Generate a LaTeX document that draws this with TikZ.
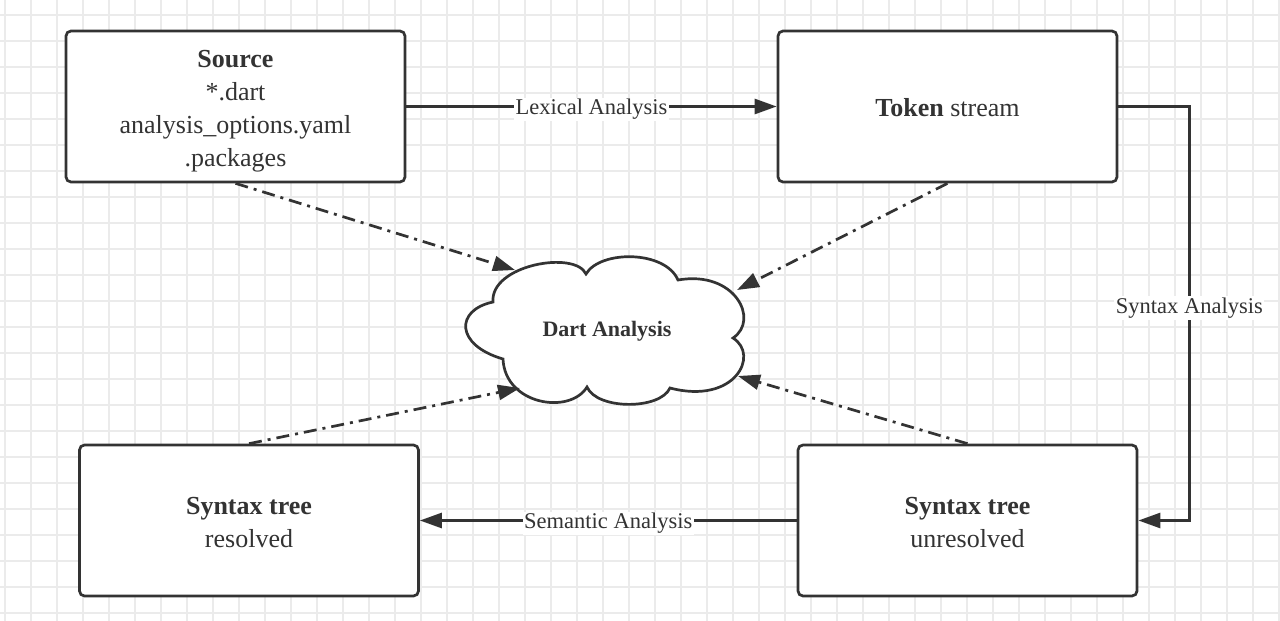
\documentclass[tikz,border=0pt]{standalone}
\usepackage{fontspec}
\setmainfont{Liberation Serif}
\usetikzlibrary{arrows.meta}
\definecolor{ink}{HTML}{333333}
\definecolor{gridc}{HTML}{EBEBEB}
\tikzset{
  box/.style={draw=ink, line width=2.7pt, rounded corners=5pt, fill=white,
    minimum width=339pt, minimum height=151pt},
  boxtext/.style={align=center, text=ink, inner sep=0pt, font=\fontsize{26}{33}\selectfont},
  flow/.style={draw=ink, line width=2.7pt, -{Triangle[length=22pt,width=15pt]}},
  dd/.style={draw=ink, line width=2.7pt, dash pattern=on 13pt off 6pt on 3pt off 6pt,
    -{Triangle[length=22pt,width=15pt]}},
  lbl/.style={fill=white, inner sep=1.5pt, text=ink, yshift=-3pt, font=\fontsize{22.5}{26}\selectfont},
  cloudline/.style={draw=ink, line width=2.7pt, fill=white},
}
\begin{document}
\begin{tikzpicture}[x=1pt,y=-1pt]
\useasboundingbox (0,0) rectangle (1280,621);
\fill[white] (0,0) rectangle (1280,621);
\foreach \i in {0,...,49} \draw[gridc, line width=1.5pt] (5+26*\i,0) -- (5+26*\i,621);
\foreach \j in {0,...,23} \draw[gridc, line width=1.5pt] (0,15+26*\j) -- (1280,15+26*\j);

\node[box] (src) at (235.5,106.5) {};
\node[box] (tok) at (947.5,106.5) {};
\node[box] (res) at (249,520.5) {};
\node[box] (unr) at (967.5,520.5) {};
\node[boxtext] (srct) at ([yshift=-4.5pt]src.center) {\textbf{Source}\\*.dart\\analysis\_options.yaml\\.packages};
\node[boxtext] (tokt) at ([yshift=-1pt]tok.center) {\textbf{Token} stream};
\node[boxtext] (rest) at ([yshift=-2pt]res.center) {\textbf{Syntax tree}\\resolved};
\node[boxtext] (unrt) at ([yshift=-2pt]unr.center) {\textbf{Syntax tree}\\unresolved};

% cloud outline
\draw[cloudline] (493,302)
  .. controls (490,265) and (575,250) .. (586,274)
  .. controls (600,250) and (665,250) .. (678,280)
  .. controls (735,270) and (760,320) .. (733,338)
  .. controls (760,355) and (735,405) .. (670,388)
  .. controls (660,410) and (597,410) .. (587,387)
  .. controls (570,415) and (505,405) .. (503,359)
  .. controls (455,345) and (455,310) .. (493,302) -- cycle;
\node[text=ink, font=\bfseries\fontsize{22}{26}\selectfont] (cloud) at (607,331) {Dart Analysis};
\coordinate (cA) at (515,270);
\coordinate (cB) at (737,290);
\coordinate (cC) at (520,388);
\coordinate (cD) at (738,376);

\draw[flow] (src.east) -- node[lbl] {Lexical Analysis} (tok.west);
\draw[flow] (tok.east) -- ++(71,0) |- node[lbl, pos=0.24] {Syntax Analysis} (unr.east);
\draw[flow] (unr.west) -- node[lbl] {Semantic Analysis} (res.east);

\draw[dd] (src.south) -- (cA);
\draw[dd] (tok.south) -- (cB);
\draw[dd] (res.north) -- (cC);
\draw[dd] (unr.north) -- (cD);
\end{tikzpicture}
\end{document}
